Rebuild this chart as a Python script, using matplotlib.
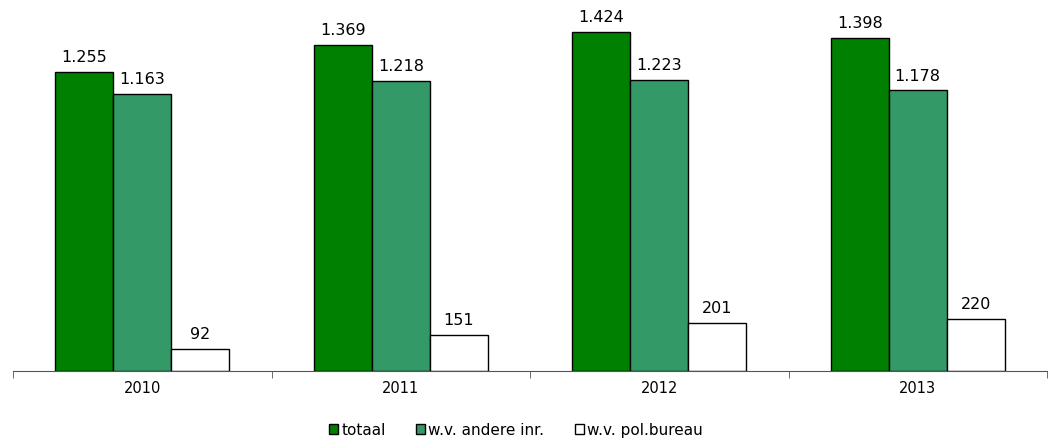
import matplotlib.pyplot as plt
import numpy as np

years = ["2010", "2011", "2012", "2013"]
totaal = [1255, 1369, 1424, 1398]
andere = [1163, 1218, 1223, 1178]
polbureau = [92, 151, 201, 220]

series = [
    ("totaal", totaal, "#008000"),
    ("w.v. andere inr.", andere, "#339966"),
    ("w.v. pol.bureau", polbureau, "#FFFFFF"),
]

fig = plt.figure(figsize=(10.53, 4.40), dpi=100)
ax = fig.add_axes([13 / 1053, 1 - 371 / 440, 1034 / 1053, 361 / 440])

x = np.arange(len(years))
width = 0.224
for i, (label, vals, color) in enumerate(series):
    pos = x + (i - 1) * width
    ax.bar(pos, vals, width, color=color, edgecolor="black", linewidth=1, label=label)
    for p, v in zip(pos, vals):
        ax.text(p, v + 28, f"{v:,}".replace(",", "."), ha="center", va="bottom", fontsize=11.5)

ax.set_xlim(-0.5, len(years) - 0.5)
ax.set_ylim(0, 1515)
for s in ["top", "right", "left"]:
    ax.spines[s].set_visible(False)
ax.spines["bottom"].set_color("#555555")
ax.set_yticks([])
ax.set_xticks(x)
ax.set_xticklabels(years, fontsize=10.5)
ax.set_xticks(np.arange(len(years) + 1) - 0.5, minor=True)
ax.tick_params(axis="x", which="major", length=0, pad=7)
ax.tick_params(axis="x", which="minor", length=5, direction="out", color="#555555")

fig.legend(loc="center", bbox_to_anchor=(516 / 1053, 1 - 430 / 440), ncol=3, frameon=False,
           fontsize=11, handlelength=0.6, handleheight=0.6, handletextpad=0.2,
           columnspacing=2.0, borderpad=0)

fig.savefig("out.png", dpi=100)
